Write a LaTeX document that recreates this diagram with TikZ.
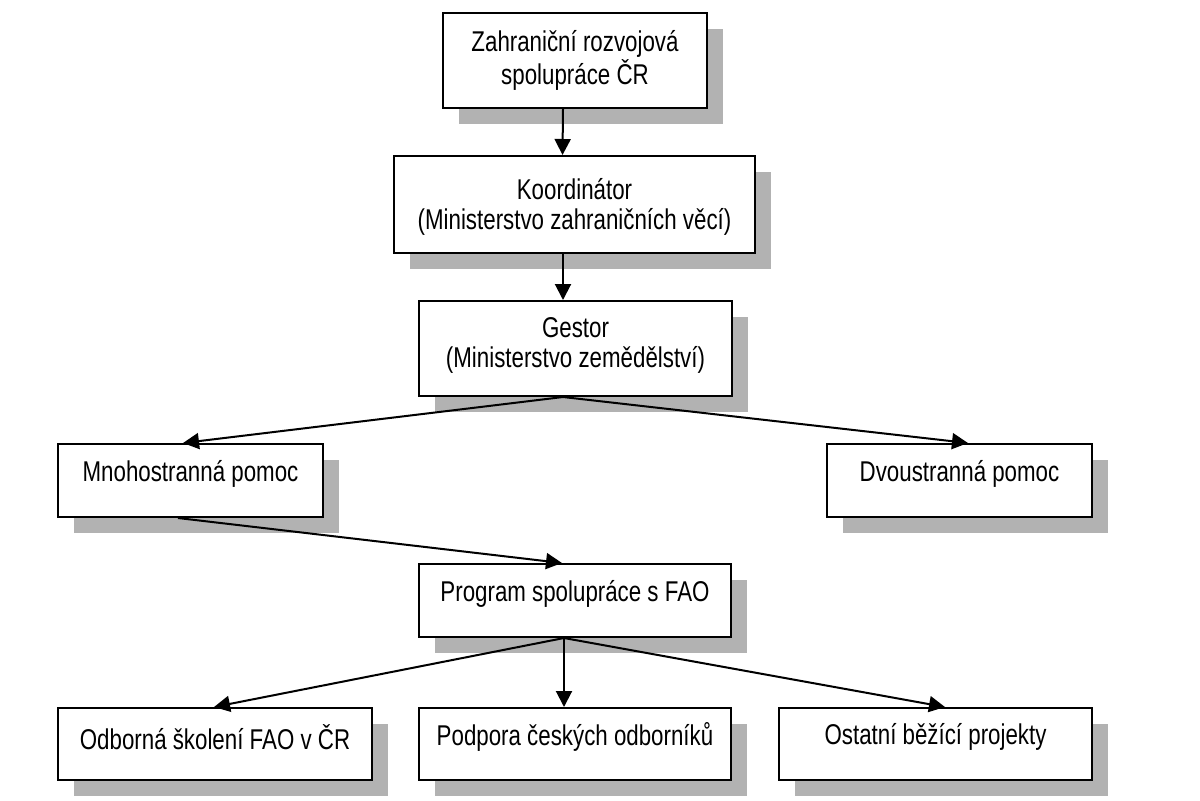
\documentclass[tikz,border=0pt]{standalone}
\usepackage{fontspec}
\setmainfont{Liberation Sans}[FakeStretch=0.78]
\usetikzlibrary{arrows.meta,shadows,calc}
\begin{document}
\begin{tikzpicture}[x=0.5pt,y=-0.5pt,
  box/.style={draw, line width=1pt, fill=white, inner sep=0pt, rectangle,
    drop shadow={shadow xshift=7.75pt, shadow yshift=-7.75pt, fill=black!30, opacity=1}},
  boxtxt/.style={align=center, inner sep=0pt, font=\fontsize{14.3pt}{15pt}\selectfont, yshift=3.5pt},
  twotxt/.style={boxtxt, yshift=-2pt},
  conn/.style={line width=1pt, -{Triangle[length=8pt,width=8pt]}}
]
\useasboundingbox (0,0) rectangle (1200,800);
\node[box, minimum width=132pt, minimum height=47.5pt,
  label={[twotxt, yshift=-1.5pt]center:{Zahraniční rozvojová\\spolupráce ČR}}] (z) at (575,60.5) {};
\node[box, minimum width=180.5pt, minimum height=48.5pt,
  label={[twotxt, yshift=-2.5pt]center:{Koordinátor\\(Ministerstvo zahraničních věcí)}}] (k) at (574.5,204.5) {};
\node[box, minimum width=156.5pt, minimum height=47.5pt,
  label={[twotxt]center:{Gestor\\(Ministerstvo zemědělství)}}] (g) at (575.5,348.5) {};
\node[box, minimum width=132.5pt, minimum height=36.5pt,
  label={[boxtxt]center:{Mnohostranná pomoc}}] (m) at (190.5,480.5) {};
\node[box, minimum width=132.5pt, minimum height=36.5pt,
  label={[boxtxt]center:{Dvoustranná pomoc}}] (d) at (959.5,480.5) {};
\node[box, minimum width=156pt, minimum height=36.5pt,
  label={[boxtxt]center:{Program spolupráce s FAO}}] (p) at (575,600.5) {};
\node[box, minimum width=157pt, minimum height=36pt,
  label={[boxtxt]center:{Odborná školení FAO v ČR}}] (o) at (215,744) {};
\node[box, minimum width=156pt, minimum height=36pt,
  label={[boxtxt]center:{Podpora českých odborníků}}] (s) at (575,744) {};
\node[box, minimum width=156.5pt, minimum height=36pt,
  label={[boxtxt]center:{Ostatní běžící projekty}}] (r) at (935.5,744) {};

\draw[conn] ($(z.south)+(-12,0)$) -- ($(k.north)+(-12,0)$);
\draw[conn] ($(k.south)+(-11.5,0)$) -- ($(g.north)+(-12.5,0)$);
\draw[conn] ($(g.south)+(-12.5,0)$) -- ($(m.north)+(-7.5,0)$);
\draw[conn] ($(g.south)+(-12.5,0)$) -- ($(d.north)+(8.5,0)$);
\draw[conn] ($(m.south)+(-12.5,0)$) -- ($(p.north)+(-13,0)$);
\draw[conn] ($(p.south)+(-11,0)$) -- ($(o.north)+(-1,0)$);
\draw[conn] ($(p.south)+(-11,0)$) -- ($(s.north)+(-11,0)$);
\draw[conn] ($(p.south)+(-11,0)$) -- ($(r.north)+(9.5,0)$);
\end{tikzpicture}
\end{document}
